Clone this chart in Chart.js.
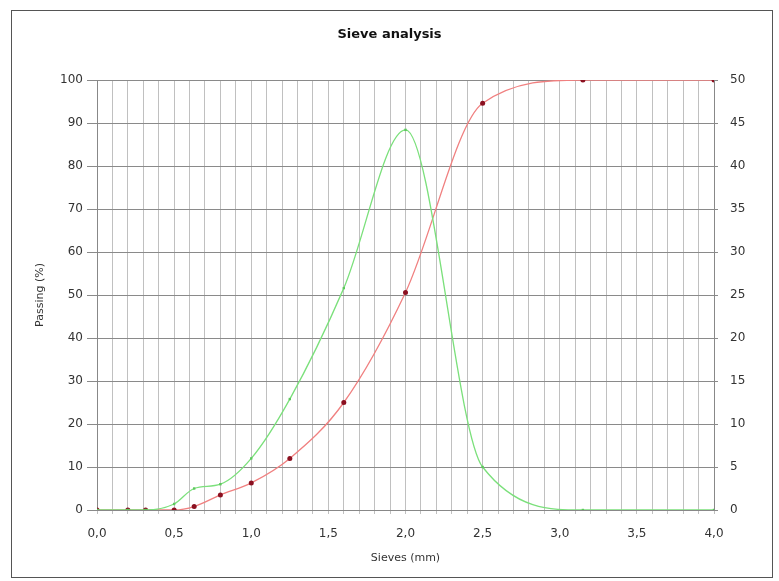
<!DOCTYPE html>
<html>
<head>
<meta charset="utf-8">
<script src="https://cdn.jsdelivr.net/npm/chart.js@4.4.1/dist/chart.umd.min.js"></script>
<style>
  html, body { margin: 0; padding: 0; background: #fff; }
  #frame { position: absolute; left: 11px; top: 10px; width: 760px; height: 566px; border: 1px solid #555; }
  #c { position: absolute; left: 0; top: 0; }
</style>
</head>
<body>
<div id="frame"></div>
<canvas id="c" width="779" height="581"></canvas>
<script>
const sieves = [0.0, 0.2, 0.315, 0.5, 0.63, 0.8, 1.0, 1.25, 1.6, 2.0, 2.5, 3.15, 4.0];
const passing = [0, 0, 0, 0, 0.8, 3.5, 6.3, 12, 25, 50.6, 94.6, 100, 100];
const retained = [0, 0, 0, 0.7, 2.5, 3.0, 6.0, 12.9, 25.8, 44.2, 5.0, 0, 0];
const xTicks = ['0,0', '0,5', '1,0', '1,5', '2,0', '2,5', '3,0', '3,5', '4,0'];
const chartTitle = 'Sieve analysis';
const xTitle = 'Sieves (mm)';
const yTitle = 'Passing (%)';

const font = "'DejaVu Sans', 'Liberation Sans', sans-serif";
const pts = (xs, ys) => xs.map((x, i) => ({ x: x, y: ys[i] }));

new Chart(document.getElementById('c'), {
  type: 'line',
  data: {
    datasets: [
      {
        label: 'Retained',
        data: pts(sieves, retained),
        yAxisID: 'y2',
        borderColor: '#7be07b',
        backgroundColor: '#5cc85c',
        borderWidth: 1.3,
        pointRadius: 1.7,
        pointStyle: 'rect',
        pointBorderWidth: 0,
        cubicInterpolationMode: 'monotone',
        order: 1
      },
      {
        label: 'Passing',
        data: pts(sieves, passing),
        yAxisID: 'y',
        borderColor: '#f08080',
        backgroundColor: '#8b1020',
        borderWidth: 1.3,
        pointRadius: 2.5,
        pointStyle: 'circle',
        pointBorderWidth: 0,
        cubicInterpolationMode: 'monotone',
        order: 2
      }
    ]
  },
  options: {
    responsive: false,
    animation: false,
    devicePixelRatio: 1,
    layout: { padding: { top: 0, left: 0, right: 0, bottom: 0 } },
    plugins: {
      legend: { display: false },
      tooltip: { enabled: false },
      title: {
        display: true,
        text: chartTitle,
        color: '#111',
        font: { family: font, size: 13, weight: 'bold' },
        padding: { top: 27, bottom: 37.4 }
      }
    },
    scales: {
      x: {
        type: 'linear',
        min: 0, max: 4,
        afterFit: s => { s.height = 71; },
        afterBuildTicks: s => {
          const t = [];
          for (let i = 0; i <= 40; i++) t.push({ value: i / 10 });
          s.ticks = t;
        },
        ticks: {
          autoSkip: false,
          maxRotation: 0,
          padding: 13,
          color: '#333',
          font: { family: font, size: 12 },
          callback: (v) => {
            const k = Math.round(v * 10);
            return k % 5 === 0 ? xTicks[k / 5] : '';
          }
        },
        grid: { color: '#c0c0c0', lineWidth: 1, tickLength: 4 },
        border: { color: '#888', width: 1 },
        title: {
          display: true, text: xTitle, color: '#333',
          font: { family: font, size: 11 },
          padding: { top: 0, bottom: 16 }
        }
      },
      y: {
        position: 'left',
        min: 0, max: 100,
        afterFit: s => { s.width = 97; },
        ticks: {
          stepSize: 10, padding: 4, color: '#333',
          font: { family: font, size: 12 }
        },
        grid: { color: '#8a8a8a', lineWidth: 1, tickLength: 10 },
        border: { color: '#888', width: 1 },
        title: {
          display: true, text: yTitle, color: '#333',
          font: { family: font, size: 11 },
          padding: { top: 34, bottom: 0 }
        }
      },
      y2: {
        position: 'right',
        min: 0, max: 50,
        afterFit: s => { s.width = 65; },
        ticks: {
          stepSize: 5, padding: 12, color: '#333',
          font: { family: font, size: 12 }
        },
        grid: { drawOnChartArea: false, color: '#8a8a8a', tickLength: 4 },
        border: { color: '#888', width: 1 }
      }
    }
  }
});
</script>
</body>
</html>
